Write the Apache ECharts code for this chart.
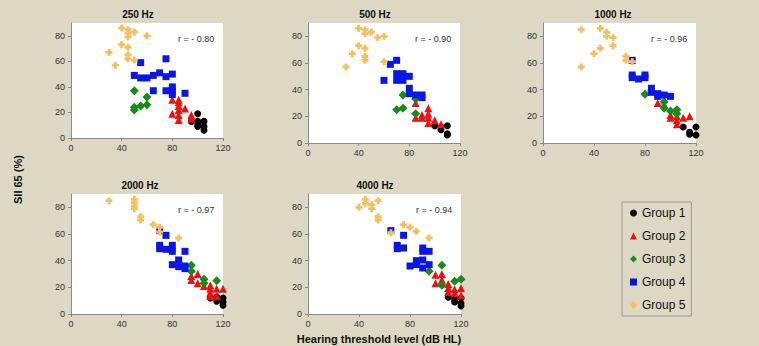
<!DOCTYPE html>
<html>
<head>
<meta charset="utf-8">
<script src="https://cdn.jsdelivr.net/npm/echarts@6/dist/echarts.min.js"></script>
<style>
  html, body { margin: 0; padding: 0; background: #ddd8c4; }
  #chart { width: 759px; height: 346px; }
</style>
</head>
<body>
<div id="chart"></div>
<script>
// panels and groups
var panelTitles = ['250 Hz', '500 Hz', '1000 Hz', '2000 Hz', '4000 Hz'];
var rValues = ['r = - 0.80', 'r = - 0.90', 'r = - 0.96', 'r = - 0.97', 'r = - 0.94'];
var groupNames = ['Group 1', 'Group 2', 'Group 3', 'Group 4', 'Group 5'];
var xTicks = [0, 40, 80, 120];
var yTicks = [0, 20, 40, 60, 80];

// 250 Hz
var f250_g1 = [[95,13],[100,19],[100,13],[100,11],[100,9],[105,13],[105,9],[105,6]];
var f250_g2 = [[80,30],[85,30],[85,28],[80,19],[85,25],[85,22],[85,18],[85,14],[90,23],[95,18],[95,15]];
var f250_g3 = [[50,37],[50,24],[50,22],[55,25],[60,32],[60,26]];
var f250_g4 = [[55,59],[50,49],[55,47],[60,47],[65,49],[70,51],[75,62],[75,48],[80,50],[65,37],[75,37],[80,40],[80,37],[80,34],[90,35]];
var f250_g5 = [[40,86],[45,85],[45,82],[45,79],[50,83],[60,80],[40,73],[45,71],[30,67],[45,65],[45,62],[50,61],[35,57]];

// 500 Hz
var f500_g1 = [[100,13],[105,12],[105,10],[110,13],[110,7],[110,6]];
var f500_g2 = [[85,30],[85,19],[90,21],[90,19],[95,26],[95,22],[95,19],[95,15],[100,17],[105,14]];
var f500_g3 = [[75,36],[70,25],[75,26],[85,33],[85,22]];
var f500_g4 = [[65,59],[70,62],[60,47],[70,52],[70,47],[75,52],[75,47],[80,50],[80,41],[80,37],[85,36],[90,36],[90,34]];
var f500_g5 = [[40,86],[45,85],[45,82],[50,83],[55,79],[60,80],[40,73],[45,71],[35,67],[45,65],[45,62],[60,61],[30,57]];

// 1000 Hz
var f1000_g1 = [[110,12],[115,8],[115,6.5],[120,12],[120,6]];
var f1000_g2 = [[90,30],[95,29],[100,21],[100,19],[105,20],[105,17],[105,14],[110,19],[115,20]];
var f1000_g3 = [[80,36.5],[95,31],[95,26],[100,24],[105,25],[105,22]];
var f1000_g4 = [[70,62],[70,51],[70,49],[75,48],[80,51],[80,49],[85,41],[85,38],[90,37],[90,35],[95,36],[100,35]];
var f1000_g5 = [[30,85],[45,86],[50,83],[50,80],[55,79],[55,73],[40,67],[45,71],[65,65],[65,62],[70,61],[30,57]];

// 2000 Hz
var f2000_g1 = [[110,12],[115,13],[115,9.5],[120,12],[120,9],[120,6.5]];
var f2000_g2 = [[95,28.5],[95,25.5],[100,30],[100,23],[105,21],[110,21.5],[110,19],[110,16],[110,13.5],[115,19],[115,13.5],[120,19]];
var f2000_g3 = [[95,36.5],[95,32],[105,26],[105,23],[115,25]];
var f2000_g4 = [[70,62.5],[75,59],[70,51.5],[70,49],[75,48.5],[80,51.5],[80,47],[90,47],[80,37],[85,40.5],[85,35.5],[90,36],[90,34]];
var f2000_g5 = [[30,85],[50,86],[50,83.5],[50,81],[50,79],[55,73],[55,70.5],[65,67],[70,65],[70,61.5],[85,57]];

// 4000 Hz
var f4000_g1 = [[110,12.5],[115,11],[115,9],[120,12],[120,8],[120,6]];
var f4000_g2 = [[100,29.5],[100,23],[105,30],[105,25.5],[110,22.5],[110,19.5],[110,16.5],[115,18.5],[115,15.5],[120,19.5],[120,14]];
var f4000_g3 = [[95,32],[105,36.5],[105,21.5],[115,24.5],[120,26]];
var f4000_g4 = [[65,62.5],[75,59],[70,51.5],[70,49],[75,49.5],[90,49.5],[90,47],[95,47],[80,36],[85,40],[85,37],[90,40.5],[90,34.5],[95,37]];
var f4000_g5 = [[40,80],[45,86],[45,83],[50,82],[50,79],[55,85],[55,73],[55,70.5],[75,67],[80,65],[85,62],[95,57],[65,61]];

var panelData = [
    [f250_g1, f250_g2, f250_g3, f250_g4, f250_g5],
    [f500_g1, f500_g2, f500_g3, f500_g4, f500_g5],
    [f1000_g1, f1000_g2, f1000_g3, f1000_g4, f1000_g5],
    [f2000_g1, f2000_g2, f2000_g3, f2000_g4, f2000_g5],
    [f4000_g1, f4000_g2, f4000_g3, f4000_g4, f4000_g5]
];

var chart = echarts.init(document.getElementById('chart'), null, {renderer: 'svg'});

// plot areas (left, top, width, height) and title centres
var grids = [
    {left: 71, top: 23, width: 152, height: 115, titleX: 138},
    {left: 308, top: 23, width: 152, height: 120, titleX: 375},
    {left: 543, top: 23, width: 153, height: 120, titleX: 613},
    {left: 71, top: 194, width: 152, height: 120, titleX: 140},
    {left: 308, top: 194, width: 153, height: 120, titleX: 375}
];
var groupColors = ['#000000', '#ee1111', '#1a8a1a', '#0a16e6', '#f5c160'];
var groupSymbols = ['circle', 'triangle', 'diamond', 'rect', 'path://M3,0H7V3H10V7H7V10H3V7H0V3H3Z'];
var groupSizes = [7, 8, 9, 7, 7];

var axisColor = '#8a8a8a';
var option = {
    backgroundColor: '#ddd8c4',
    animation: false,
    grid: [],
    xAxis: [],
    yAxis: [],
    series: [],
    legend: {
        orient: 'vertical',
        left: 622,
        top: 202,
        padding: [5, 6, 5, 8],
        itemGap: 11,
        itemWidth: 7,
        itemHeight: 7,
        borderColor: '#999',
        borderWidth: 1,
        textStyle: {fontSize: 12, color: '#111', fontFamily: 'Liberation Sans, Arial'},
        data: groupNames
    },
    graphic: []
};

for (var p = 0; p < grids.length; p++) {
    var g = grids[p];
    option.grid.push({
        left: g.left, top: g.top, width: g.width, height: g.height,
        show: true, backgroundColor: '#ffffff', borderWidth: 0
    });
    option.xAxis.push({
        gridIndex: p, type: 'value', min: xTicks[0], max: xTicks[xTicks.length - 1], interval: 40,
        splitLine: {show: false},
        axisLine: {lineStyle: {color: axisColor}},
        axisTick: {length: 3, lineStyle: {color: axisColor}},
        axisLabel: {fontSize: 9, color: '#333', margin: 5, fontFamily: 'Liberation Sans, Arial'}
    });
    option.yAxis.push({
        gridIndex: p, type: 'value', min: yTicks[0], max: 90, interval: 20,
        splitLine: {show: false},
        axisLine: {show: true, lineStyle: {color: axisColor}},
        axisTick: {show: true, length: 3, lineStyle: {color: axisColor}},
        axisLabel: {fontSize: 9, color: '#333', margin: 6, showMaxLabel: false, fontFamily: 'Liberation Sans, Arial'}
    });
    for (var k = 0; k < groupNames.length; k++) {
        option.series.push({
            type: 'scatter',
            name: groupNames[k],
            xAxisIndex: p,
            yAxisIndex: p,
            symbol: groupSymbols[k],
            symbolSize: groupSizes[k],
            itemStyle: {color: groupColors[k], opacity: 1},
            data: panelData[p][k]
        });
    }
    // panel title
    option.graphic.push({
        type: 'text',
        x: g.titleX, y: g.top - 14,
        style: {text: panelTitles[p], font: 'bold 10px Liberation Sans, Arial', fill: '#111', align: 'center'}
    });
    // correlation
    option.graphic.push({
        type: 'text',
        left: g.left + g.width - 45, top: g.top + 11,
        style: {text: rValues[p], font: '9px Liberation Sans, Arial', fill: '#333'}
    });
}

// axis titles
option.graphic.push({
    type: 'text',
    x: 379, y: 333,
    style: {text: 'Hearing threshold level (dB HL)', font: 'bold 11px Liberation Sans, Arial', fill: '#111', align: 'center'}
});
option.graphic.push({
    type: 'text',
    x: 12, y: 204, rotation: Math.PI / 2,
    style: {text: 'SII 65 (%)', font: 'bold 11px Liberation Sans, Arial', fill: '#111'}
});

chart.setOption(option);
</script>
</body>
</html>
